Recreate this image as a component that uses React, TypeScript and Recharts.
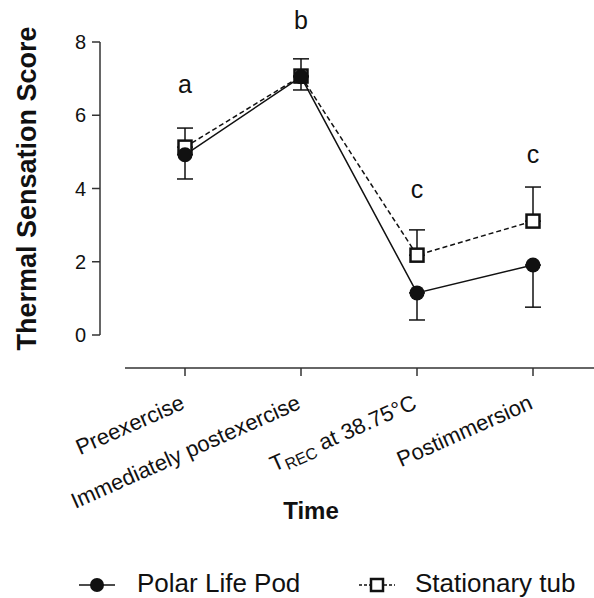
import React from 'react';
import { LineChart, Line, XAxis, YAxis, ErrorBar, ReferenceDot, Legend } from 'recharts';

const FONT = '"Liberation Sans", Arial, Helvetica, sans-serif';
const INK = '#111';
const AXIS = '#333';

// time points (the "_REC" part is drawn as a subscript)
const times = ['Preexercise', 'Immediately postexercise', 'T_REC at 38.75°C', 'Postimmersion'];

// Polar Life Pod: mean and (lower) error
const polarMean = [4.92, 7.05, 1.15, 1.91];
const polarErr = [0.66, 0.36, 0.74, 1.15];

// Stationary tub: mean and (upper) error
const tubMean = [5.13, 7.07, 2.18, 3.11];
const tubErr = [0.52, 0.47, 0.69, 0.93];

// significance letters and where they sit on the y scale
const letters = ['a', 'b', 'c', 'c'];
const letterY = [6.85, 8.59, 3.98, 4.93];

const yTicks = [0, 2, 4, 6, 8];

const seriesNames = ['Polar Life Pod', 'Stationary tub'];

const table = times.map((t, i) => ({
  time: t,
  polar: polarMean[i],
  polarErr: [polarErr[i], 0],
  tub: tubMean[i],
  tubErr: [0, tubErr[i]],
}));

const W = 594;
const H = 598;
const M = { top: 42, right: 0, left: 30, bottom: 0 };
const Y_AXIS_W = 70;
const PAD = { left: 27, right: 3 };
const BAND = (W - M.left - M.right - Y_AXIS_W - PAD.left - PAD.right) / times.length;
const AXIS_DROP = 33; // x axis line sits below the y = 0 end
const LEGEND_H = 40;

const CircleDot = (props: any) => {
  const { cx, cy, index } = props;
  if (cx == null || cy == null) return null;
  return <circle key={`c-${index}`} cx={cx} cy={cy} r={7.5} fill={INK} />;
};

const SquareDot = (props: any) => {
  const { cx, cy, index } = props;
  if (cx == null || cy == null) return null;
  return (
    <rect
      key={`s-${index}`}
      x={cx - 6.5}
      y={cy - 6.5}
      width={13}
      height={13}
      fill="#fff"
      stroke={INK}
      strokeWidth={2.5}
    />
  );
};

const TimeTick = (props: any) => {
  const { x, y, payload, index } = props;
  const ay = y + AXIS_DROP;
  const left = x - BAND / 2 - (index === 0 ? 2 : 0);
  const right = index === times.length - 1 ? W : x + BAND / 2;
  const tx = x + 1;
  const ty = ay + 40;
  const m = /^(.*?)_([A-Z]+)(.*)$/.exec(payload.value);
  return (
    <g>
      <line x1={left} x2={right} y1={ay} y2={ay} stroke={AXIS} strokeWidth={1.5} />
      <line x1={x} x2={x} y1={ay} y2={ay + 8} stroke={AXIS} strokeWidth={1.5} />
      <text
        x={tx}
        y={ty}
        textAnchor="end"
        transform={`rotate(-24 ${tx} ${ty})`}
        fontSize={22}
        fontFamily={FONT}
        fill={INK}
      >
        {m ? (
          <>
            {m[1]}
            <tspan fontSize={16} dy={4}>{m[2]}</tspan>
            <tspan dy={-4}>{m[3]}</tspan>
          </>
        ) : (
          payload.value
        )}
      </text>
    </g>
  );
};

const TimeTitle = (props: any) => {
  const { viewBox } = props;
  return (
    <text
      x={viewBox.x + 211}
      y={viewBox.y + 184}
      textAnchor="middle"
      fontSize={24}
      fontWeight="bold"
      fontFamily={FONT}
      fill={INK}
    >
      Time
    </text>
  );
};

const ScoreTitle = (props: any) => {
  const { viewBox } = props;
  const cx = 36;
  const cy = viewBox.y + viewBox.height / 2;
  return (
    <text
      x={cx}
      y={cy}
      textAnchor="middle"
      transform={`rotate(-90 ${cx} ${cy})`}
      fontSize={27}
      fontWeight="bold"
      fontFamily={FONT}
      fill={INK}
    >
      Thermal Sensation Score
    </text>
  );
};

const LegendContent = () => (
  <svg width={W} height={LEGEND_H} style={{ display: 'block' }}>
    <line x1={79} x2={115} y1={27} y2={27} stroke={INK} strokeWidth={1.5} />
    <circle cx={97} cy={27} r={7} fill={INK} />
    <text x={137} y={34} fontSize={26} fontFamily={FONT} fill={INK}>
      {seriesNames[0]}
    </text>
    <line x1={359} x2={395} y1={27} y2={27} stroke={INK} strokeWidth={1.5} strokeDasharray="3 2" />
    <rect x={371} y={21} width={12} height={12} fill="#fff" stroke={INK} strokeWidth={2.5} />
    <text x={415} y={34} fontSize={26} fontFamily={FONT} fill={INK}>
      {seriesNames[1]}
    </text>
  </svg>
);

export default function App() {
  return (
    <div style={{ position: 'absolute', left: 0, top: 0, width: W, height: H, background: '#fff' }}>
      <LineChart width={W} height={H} data={table} margin={M}>
        <XAxis
          dataKey="time"
          scale="band"
          padding={PAD}
          axisLine={false}
          tickLine={false}
          tickSize={0}
          tickMargin={0}
          height={263 - LEGEND_H}
          interval={0}
          tick={<TimeTick />}
          label={<TimeTitle />}
        />
        <YAxis
          domain={[0, 8]}
          ticks={yTicks}
          width={Y_AXIS_W}
          axisLine={{ stroke: AXIS, strokeWidth: 1.5 }}
          tickLine={{ stroke: AXIS, strokeWidth: 1.5 }}
          tickSize={8}
          tickMargin={6}
          tick={{ fontSize: 20, fill: INK, fontFamily: FONT }}
          label={<ScoreTitle />}
        />
        <Line
          dataKey="tub"
          name={seriesNames[1]}
          stroke={INK}
          strokeWidth={1.5}
          strokeDasharray="5 3"
          dot={SquareDot}
          isAnimationActive={false}
        >
          <ErrorBar dataKey="tubErr" width={8} stroke={INK} strokeWidth={1.5} />
        </Line>
        <Line
          dataKey="polar"
          name={seriesNames[0]}
          stroke={INK}
          strokeWidth={1.5}
          dot={CircleDot}
          isAnimationActive={false}
        >
          <ErrorBar dataKey="polarErr" width={8} stroke={INK} strokeWidth={1.5} />
        </Line>
        {letters.map((l, i) => (
          <ReferenceDot
            key={`l-${i}`}
            x={times[i]}
            y={letterY[i]}
            r={0}
            fill="none"
            stroke="none"
            ifOverflow="visible"
            label={{ value: l, position: 'center', fontSize: 25, fill: INK, fontFamily: FONT }}
          />
        ))}
        <Legend
          verticalAlign="bottom"
          height={LEGEND_H}
          wrapperStyle={{ left: 0, width: W }}
          content={<LegendContent />}
        />
      </LineChart>
    </div>
  );
}
